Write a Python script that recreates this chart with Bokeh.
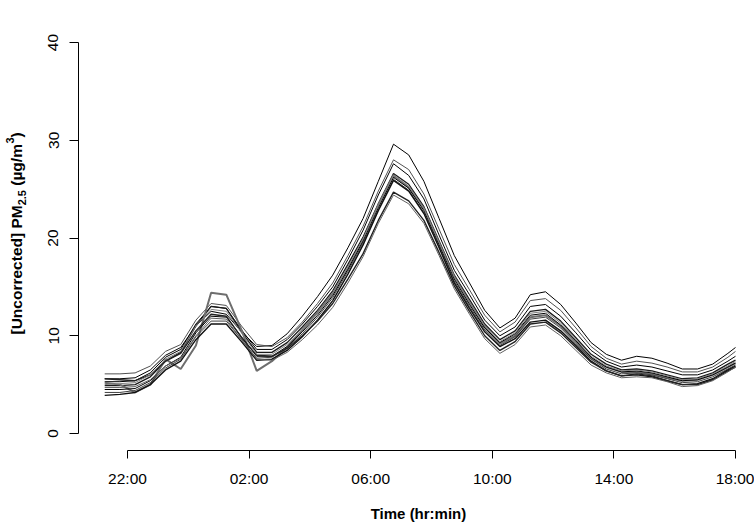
import math
from bokeh.plotting import figure
from bokeh.models import FixedTicker, Label, Range1d
from bokeh.embed import file_html
from bokeh.resources import INLINE

# ---- data ----
times = ["21:15", "21:45", "22:15", "22:45", "23:15", "23:45", "00:15", "00:45",
         "01:15", "01:45", "02:15", "02:45", "03:15", "03:45", "04:15", "04:45",
         "05:15", "05:45", "06:15", "06:45", "07:15", "07:45", "08:15", "08:45",
         "09:15", "09:45", "10:15", "10:45", "11:15", "11:45", "12:15", "12:45",
         "13:15", "13:45", "14:15", "14:45", "15:15", "15:45", "16:15", "16:45",
         "17:15", "17:45", "18:00"]

s1 = [5.6, 5.6, 5.7, 6.5, 8.0, 8.8, 11.0, 12.5, 12.2, 10.4, 8.9, 9.0, 10.2, 12.0, 14.0, 16.2,
      19.0, 22.0, 25.8, 29.6, 28.5, 25.8, 22.0, 18.2, 15.4, 12.6, 10.8, 11.8, 14.2, 14.5, 13.2, 11.3,
      9.3, 8.1, 7.5, 7.9, 7.7, 7.2, 6.6, 6.6, 7.1, 8.2, 8.8]
s2 = [6.1, 6.1, 6.2, 6.9, 8.4, 9.1, 11.6, 13.3, 13.1, 11.0, 9.1, 8.9, 9.8, 11.4, 13.3, 15.4,
      18.2, 21.2, 24.8, 28.0, 27.0, 24.5, 20.9, 17.3, 14.7, 12.1, 10.4, 11.4, 13.6, 13.8, 12.6, 10.8,
      8.9, 7.7, 7.1, 7.4, 7.2, 6.8, 6.3, 6.3, 6.8, 7.8, 8.4]
s3 = [5.3, 5.3, 5.4, 6.2, 7.8, 8.6, 11.2, 13.0, 12.8, 10.6, 8.6, 8.6, 9.6, 11.2, 13.0, 15.0,
      17.8, 20.8, 24.4, 27.6, 26.4, 24.0, 20.3, 16.7, 14.2, 11.6, 10.0, 10.9, 13.0, 13.2, 12.0, 10.3,
      8.5, 7.4, 6.8, 7.0, 6.8, 6.4, 6.0, 6.0, 6.5, 7.4, 7.9]
s4 = [4.9, 4.9, 5.0, 5.8, 7.4, 8.3, 11.0, 13.0, 12.8, 10.4, 8.3, 8.3, 9.3, 10.9, 12.6, 14.6,
      17.3, 20.1, 23.5, 26.6, 25.5, 23.2, 19.7, 16.2, 13.7, 11.2, 9.6, 10.5, 12.5, 12.7, 11.5, 9.8,
      8.1, 7.1, 6.5, 6.6, 6.4, 6.0, 5.6, 5.7, 6.2, 7.1, 7.5]
s5 = [5.2, 5.0, 4.2, 5.0, 7.6, 6.6, 9.0, 14.4, 14.2, 10.6, 6.4, 7.4, 8.8, 10.6, 12.4, 14.3,
      16.9, 19.8, 23.4, 26.4, 25.2, 23.0, 19.5, 16.0, 13.4, 10.9, 9.2, 10.0, 11.9, 12.1, 11.0, 9.4,
      7.7, 6.8, 6.3, 6.3, 6.1, 5.7, 5.4, 5.5, 6.0, 6.8, 7.2]
s6 = [4.5, 4.5, 4.6, 5.4, 6.9, 7.8, 10.3, 12.0, 11.9, 9.9, 7.9, 7.9, 8.9, 10.4, 12.1, 14.1,
      16.8, 19.7, 23.1, 26.2, 25.1, 22.8, 19.3, 15.8, 13.2, 10.8, 9.3, 10.2, 12.1, 12.3, 11.1, 9.5,
      7.8, 6.8, 6.3, 6.4, 6.2, 5.8, 5.4, 5.5, 6.0, 6.8, 7.2]
s7 = [4.2, 4.2, 4.4, 5.2, 6.7, 7.6, 9.9, 11.5, 11.5, 9.6, 7.7, 7.8, 8.8, 10.2, 11.9, 13.9,
      16.6, 19.5, 22.9, 26.0, 24.9, 22.6, 19.1, 15.6, 13.0, 10.6, 9.0, 9.9, 11.7, 11.9, 10.8, 9.2,
      7.6, 6.6, 6.1, 6.2, 6.0, 5.6, 5.2, 5.3, 5.8, 6.6, 7.0]
s8 = [3.9, 4.0, 4.2, 5.0, 6.5, 7.4, 9.6, 11.2, 11.2, 9.4, 7.5, 7.6, 8.5, 9.9, 11.6, 13.6,
      16.3, 19.3, 22.8, 25.9, 24.8, 22.5, 19.0, 15.4, 12.8, 10.4, 8.9, 9.7, 11.4, 11.6, 10.5, 9.0,
      7.4, 6.4, 5.9, 6.0, 5.8, 5.4, 5.0, 5.1, 5.6, 6.5, 6.9]
s9 = [5.6, 5.5, 5.4, 6.0, 7.4, 8.2, 10.5, 12.2, 12.0, 9.8, 8.0, 7.9, 8.7, 10.0, 11.5, 13.3,
      15.8, 18.4, 21.8, 24.7, 23.8, 21.8, 18.5, 15.1, 12.5, 10.0, 8.5, 9.4, 11.2, 11.4, 10.3, 8.8,
      7.3, 6.4, 5.9, 6.1, 5.9, 5.4, 5.0, 5.0, 5.5, 6.4, 6.8]
s10 = [4.7, 4.7, 4.8, 5.5, 6.9, 7.7, 10.0, 11.8, 11.7, 9.6, 7.6, 7.5, 8.3, 9.6, 11.1, 12.9,
       15.4, 18.1, 21.5, 24.4, 23.5, 21.5, 18.2, 14.8, 12.2, 9.7, 8.2, 9.1, 10.9, 11.1, 10.0, 8.5,
       7.0, 6.2, 5.7, 5.8, 5.7, 5.3, 4.8, 4.9, 5.4, 6.3, 6.8]
s11 = [5.0, 5.1, 5.2, 6.0, 7.6, 8.4, 11.0, 12.7, 12.5, 10.3, 8.1, 8.1, 9.1, 10.6, 12.3, 14.3,
       17.0, 19.9, 23.3, 26.4, 25.3, 23.0, 19.5, 16.0, 13.4, 11.0, 9.4, 10.3, 12.3, 12.5, 11.3, 9.6,
       7.9, 6.9, 6.4, 6.5, 6.3, 5.9, 5.5, 5.6, 6.1, 6.9, 7.4]

series = [s1, s2, s3, s4, s5, s6, s7, s8, s9, s10, s11]

x_tick_hours = [0, 4, 8, 12, 16, 20]
x_tick_labels = ["22:00", "02:00", "06:00", "10:00", "14:00", "18:00"]
y_ticks = [0, 10, 20, 30, 40]

# ---- styles ----
line_colors = ["#000000", "#505050", "#000000", "#1a1a1a", "#6e6e6e", "#000000",
               "#404040", "#111111", "#222222", "#606060", "#808080"]
line_widths = [1.0, 1.0, 1.0, 1.3, 2.0, 1.0, 1.0, 1.4, 1.4, 1.0, 1.0]

FONT = "Liberation Sans"
W, H = 754, 528


def hours_from_22(t):
    hh, mm = t.split(":")
    h = int(hh) + int(mm) / 60.0
    return h - 22 if h >= 21 else h + 2


xs = [hours_from_22(t) for t in times]

# frame covers the whole canvas; axes are placed at fixed locations inside it
X0, X1 = -4.178, 20.625
Y0, Y1 = -9.72, 44.30
AXIS_X = -1.612   # where the y axis sits (hours)
AXIS_Y = -1.739   # where the x axis sits (value)

p = figure(width=W, height=H, output_backend="svg", toolbar_location=None,
           x_range=Range1d(X0, X1), y_range=Range1d(Y0, Y1),
           min_border=0, min_border_left=0, min_border_right=0,
           min_border_top=0, min_border_bottom=0)
p.outline_line_color = None
p.grid.visible = False
p.background_fill_color = "white"
p.border_fill_color = "white"

for s, c, w in zip(series, line_colors, line_widths):
    p.line(xs, s, line_color=c, line_width=w)

# axes
xa = p.xaxis[0]
xa.fixed_location = AXIS_Y
xa.ticker = FixedTicker(ticks=x_tick_hours)
xa.major_label_overrides = {t: l for t, l in zip(x_tick_hours, x_tick_labels)}
xa.bounds = (x_tick_hours[0], x_tick_hours[-1])
xa.major_tick_out = 8
xa.major_tick_in = 0
xa.minor_tick_out = 0
xa.minor_tick_in = 0
xa.major_label_standoff = 12
xa.axis_line_color = "black"
xa.major_tick_line_color = "black"
xa.major_label_text_font = FONT
xa.major_label_text_font_size = "15.5px"
xa.major_label_text_color = "black"

ya = p.yaxis[0]
ya.fixed_location = AXIS_X
ya.ticker = FixedTicker(ticks=y_ticks)
ya.bounds = (y_ticks[0], y_ticks[-1])
ya.major_tick_out = 9
ya.major_tick_in = 0
ya.minor_tick_out = 0
ya.minor_tick_in = 0
ya.major_label_standoff = 11
ya.major_label_orientation = "parallel"
ya.axis_line_color = "black"
ya.major_tick_line_color = "black"
ya.major_label_text_font = FONT
ya.major_label_text_font_size = "15.5px"
ya.major_label_text_color = "black"

# x-axis title
p.add_layout(Label(x=418, y=H - 513, x_units="screen", y_units="screen", text="Time (hr:min)",
                   text_font=FONT, text_font_size="15px", text_font_style="bold",
                   text_align="center", text_baseline="middle", text_color="black"))

# y-axis title in pieces (rotated), with subscript and superscript
ang = math.pi / 2
MAIN, SMALL = 15.5, 11
# (text, font size, shift across the baseline, space advance before the piece)
pieces = [("[Uncorrected] PM", MAIN, 0, 0.0), ("2.5", SMALL, 5, 0.0),
          ("(\u00b5g/m", MAIN, 0, 0.278 * MAIN), ("3", SMALL, -7, 0.0), (")", MAIN, 0, 0.0)]
# approximate bold Arial advance widths (em)
wmap = {"[": .333, "]": .333, "U": .722, "n": .611, "c": .556, "o": .611, "r": .389, "e": .556,
        "t": .333, "d": .611, " ": .278, "P": .667, "M": .833, "2": .556, ".": .278, "5": .556,
        "(": .333, ")": .333, "\u00b5": .611, "g": .611, "/": .278, "m": .889, "3": .556}
base_x = 16
pos = float(H - 334)
for txt, size, dx, pre in pieces:
    pos += pre
    p.add_layout(Label(x=base_x + dx, y=pos, x_units="screen", y_units="screen", text=txt,
                       angle=ang, text_font=FONT, text_font_size=f"{size}px",
                       text_font_style="bold", text_align="left", text_baseline="alphabetic",
                       text_color="black"))
    pos += sum(wmap.get(ch, 0.55) for ch in txt) * size

open("out.html", "w").write(file_html(p, INLINE))
